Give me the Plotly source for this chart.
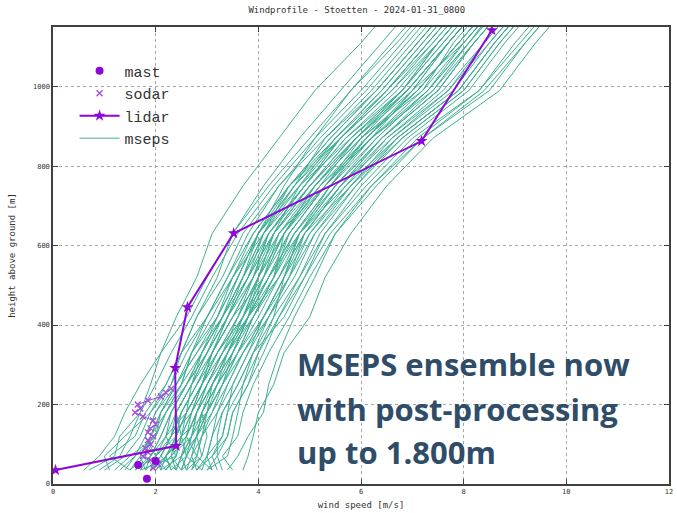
import plotly.graph_objects as go

# ---------------- data ----------------
title_text = "Windprofile - Stoetten - 2024-01-31_0800"

# MSEPS ensemble: model levels (m) and wind speed (m/s) per member
mseps_heights = [35, 70, 120, 180, 250, 330, 420, 520, 630, 750, 870, 990, 1110, 1230]
mseps_members = [
    [0.7, 1.2, 1.3, 1.7, 1.9, 2.1, 2.4, 2.8, 3.1, 3.7, 4.4, 5.1, 6.0, 6.8],
    [1.5, 1.1, 1.6, 1.8, 2.2, 2.5, 2.8, 3.3, 3.7, 4.4, 5.2, 6.1, 6.9, 7.7],
    [2.3, 2.2, 2.6, 2.7, 2.9, 3.1, 3.4, 3.7, 4.0, 4.5, 5.1, 5.8, 6.6, 7.4],
    [2.7, 2.9, 2.8, 3.1, 3.3, 3.6, 3.9, 4.3, 4.6, 5.3, 6.1, 7.1, 7.9, 8.7],
    [1.8, 1.9, 2.2, 2.3, 2.6, 3.0, 3.4, 3.9, 4.4, 5.3, 6.2, 7.4, 8.1, 8.9],
    [3.1, 3.0, 3.3, 3.4, 3.7, 4.0, 4.4, 4.9, 5.3, 6.0, 6.9, 8.1, 8.8, 9.6],
    [3.7, 3.8, 3.9, 4.0, 4.3, 4.5, 5.0, 5.3, 5.8, 6.5, 7.4, 8.7, 9.4, 10.2],
    [1.9, 2.1, 2.3, 2.5, 2.8, 3.1, 3.5, 3.9, 4.3, 5.0, 5.9, 6.9, 7.7, 8.5],
    [2.4, 2.3, 2.7, 2.8, 3.0, 3.3, 3.6, 3.9, 4.2, 4.9, 5.6, 6.5, 7.3, 8.1],
    [1.5, 1.7, 1.9, 2.1, 2.4, 2.7, 3.1, 3.5, 3.9, 4.6, 5.5, 6.5, 7.3, 8.1],
    [2.5, 2.6, 2.8, 3.0, 3.3, 3.6, 4.1, 4.5, 5.0, 5.8, 6.7, 7.9, 8.6, 9.4],
    [2.0, 2.2, 2.4, 2.6, 2.9, 3.2, 3.6, 4.0, 4.4, 5.1, 5.9, 6.9, 7.7, 8.5],
    [2.8, 3.0, 3.1, 3.2, 3.5, 3.8, 4.1, 4.5, 4.8, 5.5, 6.3, 7.3, 8.1, 8.9],
    [1.0, 1.4, 1.7, 1.9, 2.2, 2.5, 3.0, 3.5, 4.0, 4.8, 5.8, 6.9, 7.7, 8.5],
    [2.2, 2.4, 2.5, 2.7, 3.0, 3.3, 3.8, 4.2, 4.7, 5.5, 6.4, 7.5, 8.2, 9.0],
    [3.2, 3.1, 3.4, 3.5, 3.8, 4.0, 4.3, 4.5, 4.8, 5.4, 6.1, 7.0, 7.7, 8.5],
    [1.6, 1.9, 2.1, 2.3, 2.6, 2.9, 3.2, 3.6, 4.0, 4.7, 5.5, 6.4, 7.2, 8.0],
    [2.6, 2.5, 2.8, 2.9, 3.2, 3.4, 3.7, 4.0, 4.3, 5.0, 5.8, 6.8, 7.5, 8.3],
    [2.1, 2.2, 2.4, 2.6, 2.9, 3.3, 3.8, 4.4, 4.9, 5.8, 6.8, 8.0, 8.7, 9.5],
    [2.7, 2.8, 2.9, 3.1, 3.4, 3.7, 4.1, 4.5, 4.9, 5.6, 6.4, 7.5, 8.2, 9.0],
    [1.3, 1.6, 1.8, 2.0, 2.3, 2.5, 2.8, 3.2, 3.5, 4.1, 4.8, 5.6, 6.4, 7.2],
    [2.4, 2.5, 2.6, 2.8, 3.1, 3.4, 3.8, 4.2, 4.6, 5.3, 6.1, 7.1, 7.9, 8.7],
    [1.9, 2.0, 2.3, 2.4, 2.7, 3.0, 3.4, 3.8, 4.2, 4.9, 5.7, 6.8, 7.5, 8.3],
    [2.9, 3.0, 3.1, 3.3, 3.6, 3.9, 4.3, 4.8, 5.3, 6.1, 7.0, 8.3, 9.0, 9.8],
    [2.2, 2.4, 2.5, 2.6, 2.9, 3.1, 3.4, 3.8, 4.1, 4.7, 5.3, 6.2, 7.0, 7.8],
    [0.9, 1.3, 1.5, 1.7, 2.0, 2.3, 2.7, 3.1, 3.6, 4.3, 5.1, 6.0, 6.8, 7.6],
    [2.4, 2.5, 2.7, 2.8, 3.1, 3.5, 3.9, 4.4, 4.8, 5.6, 6.6, 7.7, 8.4, 9.2],
    [2.0, 2.3, 2.4, 2.6, 2.9, 3.2, 3.6, 4.0, 4.5, 5.2, 6.1, 7.1, 7.9, 8.7],
    [3.0, 3.2, 3.2, 3.3, 3.6, 3.9, 4.2, 4.6, 4.9, 5.6, 6.4, 7.5, 8.2, 9.0],
    [1.5, 1.8, 1.9, 2.1, 2.4, 2.8, 3.3, 3.8, 4.3, 5.1, 6.0, 7.1, 7.9, 8.7],
    [2.5, 2.6, 2.8, 2.9, 3.2, 3.5, 3.8, 4.1, 4.5, 5.2, 5.9, 7.0, 7.7, 8.5],
    [1.8, 2.1, 2.3, 2.5, 2.8, 3.2, 3.7, 4.2, 4.8, 5.7, 6.7, 7.9, 8.6, 9.4],
    [2.3, 2.2, 2.5, 2.7, 2.9, 3.2, 3.7, 4.0, 4.5, 5.1, 6.0, 6.9, 7.7, 8.5],
    [2.8, 2.7, 2.9, 3.0, 3.3, 3.5, 3.8, 4.0, 4.3, 4.8, 5.5, 6.4, 7.2, 8.0],
    [1.7, 1.9, 2.1, 2.3, 2.6, 3.0, 3.4, 3.8, 4.3, 5.0, 5.9, 6.9, 7.7, 8.5],
    [3.3, 3.2, 3.4, 3.5, 3.8, 4.1, 4.4, 4.8, 5.2, 5.9, 6.7, 7.9, 8.6, 9.4],
    [0.6, 0.9, 1.2, 1.4, 1.7, 2.1, 2.6, 3.0, 3.5, 4.2, 5.0, 5.8, 6.7, 7.5],
    [2.5, 2.3, 2.6, 2.8, 3.1, 3.4, 3.8, 4.2, 4.7, 5.4, 6.3, 7.3, 8.0, 8.8],
    [2.6, 2.7, 2.8, 3.0, 3.3, 3.7, 4.1, 4.6, 5.1, 5.9, 6.8, 8.0, 8.7, 9.5],
    [2.1, 2.0, 2.4, 2.5, 2.8, 3.1, 3.5, 3.9, 4.2, 4.9, 5.6, 6.6, 7.4, 8.2],
    [1.2, 1.5, 2.0, 2.1, 2.5, 2.7, 3.2, 3.5, 4.1, 4.6, 5.6, 6.5, 7.4, 8.2],
    [2.9, 2.6, 2.5, 3.0, 3.1, 3.5, 3.8, 4.3, 4.5, 5.3, 6.0, 7.2, 7.8, 8.6],
    [1.7, 2.4, 2.2, 2.6, 2.7, 3.1, 3.5, 4.1, 4.4, 5.2, 6.2, 7.0, 8.0, 8.8],
    [3.5, 3.3, 3.6, 3.7, 3.9, 4.2, 4.6, 5.0, 5.5, 6.2, 7.1, 8.3, 9.1, 9.9],
    [2.0, 1.8, 2.0, 2.2, 2.5, 2.7, 3.0, 3.4, 3.8, 4.4, 5.3, 6.3, 7.1, 7.9],
    [2.6, 2.9, 3.0, 2.9, 3.2, 3.6, 3.9, 4.3, 4.7, 5.4, 6.2, 7.3, 8.1, 8.8],
    [1.1, 1.0, 1.4, 1.9, 2.3, 2.6, 3.0, 3.4, 3.9, 4.6, 5.4, 6.3, 7.1, 7.9],
    [2.3, 2.6, 2.7, 3.0, 3.2, 3.6, 4.0, 4.4, 4.9, 5.6, 6.5, 7.6, 8.4, 9.2],
    [3.1, 2.8, 2.9, 3.2, 3.4, 3.7, 4.2, 4.7, 5.1, 5.8, 6.6, 7.8, 8.5, 9.3],
    [1.9, 2.2, 2.5, 2.4, 2.7, 3.0, 3.3, 3.7, 4.1, 4.8, 5.6, 6.6, 7.5, 8.3],
    [2.4, 2.1, 2.3, 2.7, 3.0, 3.4, 3.7, 4.1, 4.6, 5.3, 6.2, 7.2, 8.0, 8.8],
    [1.4, 1.6, 2.0, 2.2, 2.6, 2.9, 3.3, 3.7, 4.1, 4.9, 5.7, 6.7, 7.5, 8.3],
    [2.8, 3.1, 3.3, 3.4, 3.5, 3.8, 4.2, 4.6, 5.0, 5.7, 6.5, 7.7, 8.5, 9.3],
    [2.2, 2.0, 2.2, 2.4, 2.7, 2.9, 3.3, 3.6, 4.0, 4.6, 5.4, 6.3, 7.1, 7.9],
    [3.0, 3.4, 3.5, 3.6, 3.7, 3.9, 4.5, 4.9, 5.4, 6.2, 7.2, 8.4, 9.2, 10.0],
    [1.8, 1.7, 1.9, 2.2, 2.5, 2.9, 3.3, 3.7, 4.2, 5.0, 5.8, 6.8, 7.6, 8.4],
    [2.5, 2.8, 2.6, 2.8, 3.0, 3.3, 3.7, 4.1, 4.5, 5.1, 5.9, 6.8, 7.6, 8.4],
    [2.1, 2.5, 2.7, 2.9, 3.1, 3.4, 3.9, 4.3, 4.8, 5.5, 6.4, 7.4, 8.2, 9.0],
    [3.4, 3.6, 3.8, 4.1, 4.2, 4.4, 4.7, 5.1, 5.5, 6.3, 7.2, 8.5, 9.2, 10.0],
    [1.6, 2.0, 1.8, 2.0, 2.4, 2.8, 3.2, 3.6, 4.0, 4.7, 5.6, 6.5, 7.3, 8.1],
]

# Lidar profile
lidar_heights = [35, 96, 292, 445, 631, 863, 1142]
lidar_speeds = [0.05, 2.40, 2.38, 2.62, 3.52, 7.18, 8.55]

# Sodar profile
sodar_heights = [40, 50, 60, 70, 80, 90, 100, 110, 120, 130, 140, 150, 160, 170,
                 180, 190, 200, 210, 220, 230, 240]
sodar_speeds = [1.95, 2.05, 1.90, 1.75, 1.85, 1.80, 1.90, 1.85, 1.95, 1.85, 1.90,
                2.00, 1.95, 1.75, 1.60, 1.70, 1.65, 1.85, 2.10, 2.20, 2.30]

# Mast measurements
mast_heights = [13, 48, 58]
mast_speeds = [1.83, 1.66, 2.00]

x_ticks = [0, 2, 4, 6, 8, 10, 12]
y_ticks = [0, 200, 400, 600, 800, 1000]

note_lines = ["MSEPS ensemble now", "with post-processing", "up to 1.800m"]

# ---------------- styles ----------------
GREEN = "#1ea282"
PURPLE = "#8f06d8"
SODAR_C = "#a64be0"
MONO = "DejaVu Sans Mono"

fig = go.Figure()

# ensemble as one trace with gaps
ens_x, ens_y = [], []
for m in mseps_members:
    ens_x += m + [None]
    ens_y += mseps_heights + [None]
fig.add_trace(go.Scatter(
    x=ens_x, y=ens_y, mode="lines", name="mseps",
    line=dict(color=GREEN, width=1), opacity=0.85,
    legendrank=4, connectgaps=False))

# sodar: connecting line (no legend) + markers
fig.add_trace(go.Scatter(
    x=sodar_speeds, y=sodar_heights, mode="lines",
    line=dict(color=SODAR_C, width=1), showlegend=False, hoverinfo="skip"))
fig.add_trace(go.Scatter(
    x=sodar_speeds, y=sodar_heights, mode="markers", name="sodar",
    marker=dict(symbol="x-thin-open", size=6, color=SODAR_C,
                line=dict(color=SODAR_C, width=1.3)),
    legendrank=2))

# lidar
fig.add_trace(go.Scatter(
    x=lidar_speeds, y=lidar_heights, mode="lines+markers", name="lidar",
    line=dict(color=PURPLE, width=2),
    marker=dict(symbol="star", size=9, color=PURPLE),
    legendrank=3))

# mast
fig.add_trace(go.Scatter(
    x=mast_speeds, y=mast_heights, mode="markers", name="mast",
    marker=dict(symbol="circle", size=8, color=PURPLE),
    legendrank=1))

# note annotation lines
note_y = [302, 188, 80]
for txt, yy in zip(note_lines, note_y):
    fig.add_annotation(
        x=4.72, y=yy, xref="x", yref="y", text="<b>%s</b>" % txt,
        showarrow=False, xanchor="left", yanchor="middle",
        font=dict(family="Open Sans", size=31, color="#2f4c69"))

axis_common = dict(
    showline=True, linecolor="#404040", linewidth=1.5, mirror="ticks",
    ticks="inside", ticklen=5, tickcolor="#404040",
    showgrid=True, gridcolor="#a8a8a8", griddash="dot", gridwidth=1,
    zeroline=False, automargin=False, ticklabeloverflow="allow",
    tickfont=dict(family=MONO, size=7, color="#333333"),
)

fig.update_layout(
    width=677, height=513,
    margin=dict(l=53, r=8, t=27, b=29),
    paper_bgcolor="white", plot_bgcolor="white",
    title=dict(text=title_text, x=0.527, xanchor="center",
               yref="container", y=0.98, yanchor="middle",
               font=dict(family=MONO, size=9, color="#333333")),
    xaxis=dict(range=[0, 12], tickvals=x_ticks, ticktext=[str(v) for v in x_ticks],
               title=dict(text="wind speed [m/s]", standoff=7,
                          font=dict(family=MONO, size=9, color="#333333")),
               **axis_common),
    yaxis=dict(range=[0, 1150], tickvals=y_ticks, ticktext=[str(v) for v in y_ticks],
               title=dict(text="height above ground [m]", standoff=16,
                          font=dict(family=MONO, size=9, color="#333333")),
               **axis_common),
    legend=dict(x=0.035, y=0.94, xanchor="left", yanchor="top",
                bgcolor="rgba(255,255,255,0)", borderwidth=0,
                font=dict(family="Liberation Mono", size=15, color="#333333"),
                tracegroupgap=0, itemwidth=40),
    showlegend=True,
)

# remove the default page margin so the figure fills the window exactly
fig.write_html("out.html",
               config={"displayModeBar": False},
               post_script="document.body.style.margin='0px';"
                           "document.body.style.overflow='hidden';")
